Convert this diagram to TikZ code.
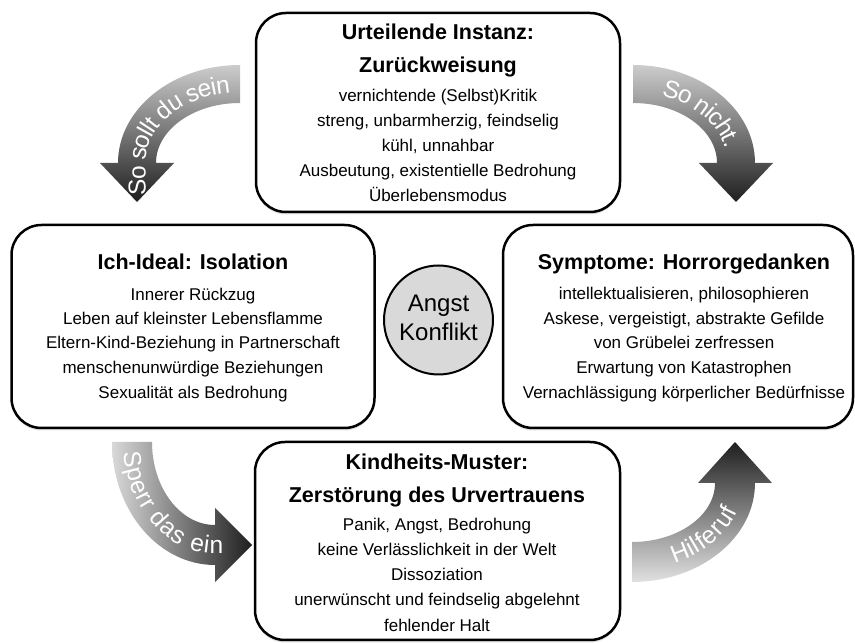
\documentclass[tikz,border=0pt]{standalone}
\usepackage{fontspec}
\setmainfont{Liberation Sans}
\usetikzlibrary{decorations.text,shadows}
\newcommand\bodyfnt{\fontsize{17}{20}\selectfont}
\newcommand\titlefnt{\fontsize{21.5}{24}\selectfont\bfseries}
\newcommand\arrfnt{\fontsize{24.5}{26}\selectfont}
\begin{document}
\begin{tikzpicture}[x=1pt,y=1pt,
  box/.style={draw=black, line width=2.5pt, rounded corners=30pt, fill=white, inner sep=0pt,
    drop shadow={opacity=0.25,shadow xshift=0pt,shadow yshift=-2.5pt}},
  body/.style={font=\bodyfnt, inner sep=0pt, anchor=base},
  ttl/.style={font=\titlefnt, inner sep=0pt, anchor=base},
  arrtext/.style={decorate, decoration={text along path, text color=white, raise=-8.5pt}}
]
\useasboundingbox (0,0) rectangle (855,643);
\fill[white] (0,0) rectangle (855,643);

% ---------- curved arrows ----------
% top-left: So sollt du sein
\shade[top color=black!20, bottom color=black!88]
  (240,578) arc[start angle=90, end angle=180, x radius=122, y radius=98]
  -- (100,480) -- (137,441) -- (174,480) -- (156,480)
  arc[start angle=180, end angle=90, x radius=84, y radius=60] -- cycle;
\path[arrtext, decoration={text={|\arrfnt|So sollt du sein}, text align={left indent=1pt}}]
  (137,446) -- (137,480) arc[start angle=180, end angle=90, x radius=103, y radius=79] -- (270,559);

% top-right: So nicht.
\shade[top color=black!20, bottom color=black!88]
  (633,578) arc[start angle=90, end angle=0, x radius=122, y radius=98]
  -- (773,480) -- (736,441) -- (699,480) -- (717,480)
  arc[start angle=0, end angle=90, x radius=84, y radius=60] -- cycle;
\path[arrtext, decoration={text={|\arrfnt|So nicht.}, text align={left indent=31pt}}]
  (633,559) arc[start angle=90, end angle=0, x radius=103, y radius=79] -- (736,420);

% bottom-left: Sperr das ein
\shade[left color=black!15, right color=black!88]
  (112,201) arc[start angle=180, end angle=270, x radius=103, y radius=123]
  -- (215,61) -- (252,98) -- (215,135) -- (215,118)
  arc[start angle=270, end angle=180, x radius=63, y radius=83] -- cycle;
\path[arrtext, decoration={text={|\arrfnt|Sperr das ein}, text align={left indent=9pt}}]
  (132,201) arc[start angle=180, end angle=270, x radius=83, y radius=103] -- (275,98);

% bottom-right: Hilferuf
\shade[top color=black!88, bottom color=black!12]
  (632,61) arc[start angle=270, end angle=360, x radius=123, y radius=99]
  -- (772,160) -- (735,201) -- (698,160) -- (715,160)
  arc[start angle=0, end angle=-90, x radius=83, y radius=59] -- cycle;
\path[arrtext, decoration={text={|\arrfnt|Hilferuf}, text align={left indent=40pt}}]
  (632,82) arc[start angle=270, end angle=360, x radius=103, y radius=78] -- (735,225);

% ---------- boxes ----------
\node[box, minimum width=364pt, minimum height=199pt] (topbox) at (438,530.5) {};
\node[box, minimum width=363pt, minimum height=203pt] (leftbox) at (193,316.5) {};
\node[box, minimum width=350pt, minimum height=203pt] (rightbox) at (678,316.5) {};
\node[box, minimum width=365pt, minimum height=198pt] (botbox) at (437.5,102) {};

% top box text
\node[ttl] (t1) at (438,603) {Urteilende Instanz:};
\node[ttl] (t2) at (438,570) {Zurückweisung};
\node[body] (t3) at (438,541) {vernichtende (Selbst)Kritik};
\node[body] (t4) at (438,516) {streng, unbarmherzig, feindselig};
\node[body] (t5) at (438,491) {kühl, unnahbar};
\node[body] (t6) at (438,466) {Ausbeutung, existentielle Bedrohung};
\node[body] (t7) at (438,441) {Überlebensmodus};

% left box text
\node[ttl] (l1) at (193,373) {Ich-Ideal: Isolation};
\node[body] (l2) at (193,342) {Innerer Rückzug};
\node[body] (l3) at (193,318) {Leben auf kleinster Lebensflamme};
\node[body] (l4) at (193,294) {Eltern-Kind-Beziehung in Partnerschaft};
\node[body] (l5) at (193,269) {menschenunwürdige Beziehungen};
\node[body] (l6) at (193,244) {Sexualität als Bedrohung};

% right box text
\node[ttl] (r1) at (684,373) {Symptome: Horrorgedanken};
\node[body] (r2) at (684,343) {intellektualisieren, philosophieren};
\node[body] (r3) at (684,318) {Askese, vergeistigt, abstrakte Gefilde};
\node[body] (r4) at (684,294) {von Grübelei zerfressen};
\node[body] (r5) at (684,269) {Erwartung von Katastrophen};
\node[body] (r6) at (684,244) {Vernachlässigung körperlicher Bedürfnisse};

% bottom box text
\node[ttl] (b1) at (437,173) {Kindheits-Muster:};
\node[ttl] (b2) at (437,140) {Zerstörung des Urvertrauens};
\node[body] (b3) at (437,112) {Panik, Angst, Bedrohung};
\node[body] (b4) at (437,87) {keine Verlässlichkeit in der Welt};
\node[body] (b5) at (437,62) {Dissoziation};
\node[body] (b6) at (437,37) {unerwünscht und feindselig abgelehnt};
\node[body] (b7) at (437,11) {fehlender Halt};

% ---------- centre circle ----------
\node[draw=black, line width=2pt, circle, fill=black!15, minimum size=109pt, inner sep=0pt] (core) at (438.5,323) {};
\node[font=\fontsize{24}{28}\selectfont, inner sep=0pt, anchor=base] (angst) at (438.5,331) {Angst};
\node[font=\fontsize{24}{28}\selectfont, inner sep=0pt, anchor=base] (konfl) at (438.5,302) {Konflikt};
\end{tikzpicture}
\end{document}
